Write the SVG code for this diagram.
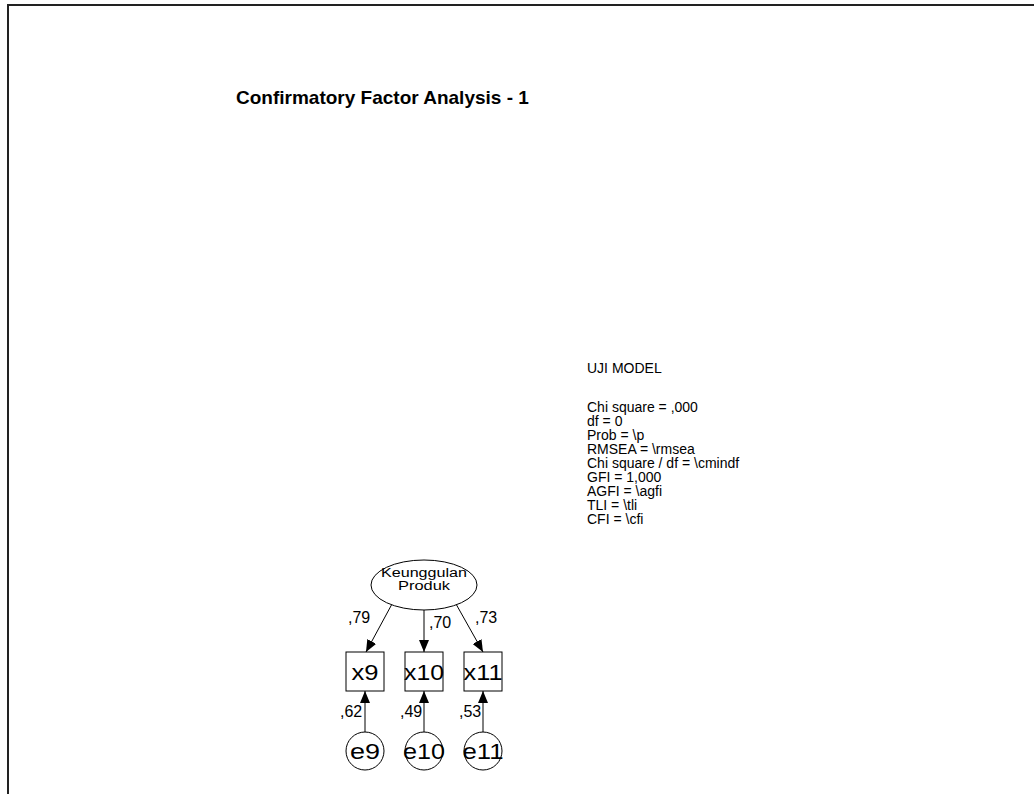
<svg xmlns="http://www.w3.org/2000/svg" width="1034" height="794" viewBox="0 0 1034 794">
<defs>
<marker id="ah" viewBox="0 0 12 10" refX="12" refY="5" markerWidth="12" markerHeight="10" markerUnits="userSpaceOnUse" orient="auto">
<path d="M0,0 L12,5 L0,10 Z" fill="#000"/>
</marker>
</defs>
<style>
text{font-family:"Liberation Sans",Arial,sans-serif;fill:#000}
.t{font-size:19px;font-weight:bold}
.s{font-size:14px}
.lat{font-size:12px}
.obs{font-size:22px}
.lab{font-size:16px}
.n{fill:#fff;stroke:#000;stroke-width:1}
.c{stroke:#000;stroke-width:1;fill:none;marker-end:url(#ah)}
</style>
<rect width="1034" height="794" fill="#fff"/>
<path d="M8,794 V5 H1034" fill="none" stroke="#222" stroke-width="2"/>
<text class="t" x="236" y="104">Confirmatory Factor Analysis - 1</text>
<g id="fit">
<text class="s" x="587" y="373">UJI MODEL</text>
<text class="s" x="587" y="412">Chi square = ,000</text>
<text class="s" x="587" y="426">df = 0</text>
<text class="s" x="587" y="440">Prob = \p</text>
<text class="s" x="587" y="454">RMSEA = \rmsea</text>
<text class="s" x="587" y="468">Chi square / df = \cmindf</text>
<text class="s" x="587" y="482">GFI = 1,000</text>
<text class="s" x="587" y="496">AGFI = \agfi</text>
<text class="s" x="587" y="510">TLI = \tli</text>
<text class="s" x="587" y="524">CFI = \cfi</text>
</g>
<g id="connectors">
<line class="c" x1="392" y1="604" x2="366" y2="652"/>
<line class="c" x1="424" y1="610" x2="424" y2="652"/>
<line class="c" x1="456" y1="604" x2="483" y2="652"/>
<line class="c" x1="365" y1="732" x2="365" y2="691"/>
<line class="c" x1="424" y1="732" x2="424" y2="691"/>
<line class="c" x1="483" y1="732" x2="483" y2="691"/>
<text class="lab" x="348" y="623">,79</text>
<text class="lab" x="429" y="628">,70</text>
<text class="lab" x="475" y="623">,73</text>
<text class="lab" x="340" y="717">,62</text>
<text class="lab" x="400" y="717">,49</text>
<text class="lab" x="459" y="717">,53</text>
</g>
<g id="keunggulan">
<ellipse class="n" cx="424" cy="585" rx="53" ry="25"/>
<text class="lat" x="424" y="577" text-anchor="middle" textLength="86" lengthAdjust="spacingAndGlyphs">Keunggulan</text>
<text class="lat" x="424" y="590" text-anchor="middle" textLength="52" lengthAdjust="spacingAndGlyphs">Produk</text>
</g>
<g id="x9"><rect class="n" x="346" y="652" width="38" height="39"/><text class="obs" x="365" y="680" text-anchor="middle" textLength="27" lengthAdjust="spacingAndGlyphs">x9</text></g>
<g id="x10"><rect class="n" x="405" y="652" width="38" height="39"/><text class="obs" x="424" y="680" text-anchor="middle" textLength="40" lengthAdjust="spacingAndGlyphs">x10</text></g>
<g id="x11"><rect class="n" x="464" y="652" width="38" height="39"/><text class="obs" x="483" y="680" text-anchor="middle" textLength="39" lengthAdjust="spacingAndGlyphs">x11</text></g>
<g id="e9"><circle class="n" cx="365" cy="751" r="19"/><text class="obs" x="365" y="759" text-anchor="middle" textLength="30" lengthAdjust="spacingAndGlyphs">e9</text></g>
<g id="e10"><circle class="n" cx="424" cy="751" r="19"/><text class="obs" x="424" y="759" text-anchor="middle" textLength="42" lengthAdjust="spacingAndGlyphs">e10</text></g>
<g id="e11"><circle class="n" cx="483" cy="751" r="19"/><text class="obs" x="483" y="759" text-anchor="middle" textLength="41" lengthAdjust="spacingAndGlyphs">e11</text></g>
</svg>
